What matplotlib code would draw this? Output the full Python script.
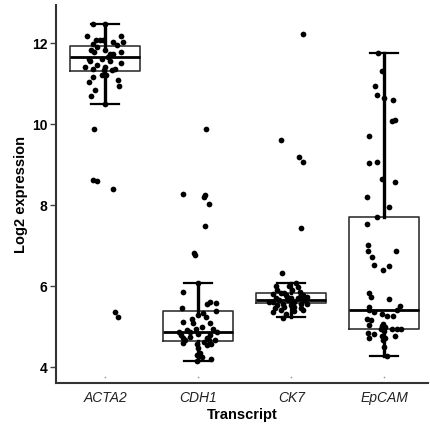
import matplotlib
matplotlib.use('Agg')
import matplotlib.pyplot as plt

plt.rcParams['font.family'] = ['Liberation Sans', 'DejaVu Sans']

# --- data ---
transcripts = ['ACTA2', 'CDH1', 'CK7', 'EpCAM']

# box statistics: lower whisker, q1, median, q3, upper whisker
whislo = [10.50, 4.15, 5.24, 4.27]
q1 = [11.32, 4.64, 5.59, 4.94]
med = [11.66, 4.87, 5.65, 5.42]
q3 = [11.94, 5.39, 5.83, 7.71]
whishi = [12.48, 6.07, 6.07, 11.77]

# jittered points: horizontal offset from the group centre and log2 value
acta2_dx = [-0.13, 0.00, -0.20, 0.17, -0.10, -0.06, -0.03, 0.19, -0.13, 0.08,
            0.13, -0.09, -0.15, -0.12, 0.00, 0.17, 0.05, 0.08, 0.03, -0.04,
            -0.18, -0.17, 0.05, 0.17, -0.09, -0.22, 0.00, 0.10, 0.07, -0.13,
            -0.02, -0.13, -0.04, 0.01, 0.14, -0.18, 0.15, -0.11, -0.15, 0.00,
            -0.12, -0.13, -0.09, 0.08, 0.10, 0.14]
acta2_y = [12.48, 12.48, 12.17, 12.17, 12.09, 12.09, 12.09, 12.03, 11.99, 12.03,
           11.95, 11.91, 11.83, 11.79, 11.83, 11.79, 11.74, 11.74, 11.66, 11.62,
           11.60, 11.55, 11.55, 11.50, 11.46, 11.41, 11.41, 11.37, 11.33, 11.37,
           11.33, 11.17, 11.21, 11.21, 11.09, 11.05, 10.94, 10.85, 10.70, 10.50,
           9.89, 8.62, 8.60, 8.40, 5.37, 5.24]

cdh1_dx = [0.08, -0.16, 0.07, 0.06, 0.11, 0.07, -0.05, -0.04, -0.16, 0.00,
           0.13, 0.09, 0.19, -0.18, 0.19, 0.05, 0.00, -0.07, -0.06, -0.16,
           0.08, 0.13, 0.04, -0.03, 0.16, -0.12, -0.09, -0.21, 0.20, 0.00,
           -0.19, -0.17, 0.13, -0.09, 0.09, 0.11, -0.14, -0.16, 0.18, 0.06,
           -0.01, 0.14, 0.09, 0.00, 0.02, -0.01, 0.04, 0.14, -0.01]
cdh1_y = [9.89, 8.27, 8.25, 8.21, 8.02, 7.49, 6.81, 6.77, 5.86, 6.08,
          5.61, 5.57, 5.59, 5.45, 5.39, 5.34, 5.28, 5.18, 5.08, 5.12,
          5.24, 5.08, 5.00, 4.95, 4.95, 4.91, 4.87, 4.87, 4.87, 4.83,
          4.79, 4.73, 4.79, 4.75, 4.71, 4.67, 4.67, 4.60, 4.67, 4.63,
          4.58, 4.58, 4.54, 4.46, 4.34, 4.30, 4.25, 4.21, 4.16]

ck7_dx = [0.12, -0.11, 0.08, 0.13, 0.10, -0.10, 0.05, -0.17, -0.02, 0.07,
          -0.15, 0.01, 0.09, -0.20, -0.11, -0.06, 0.12, 0.17, -0.17, 0.00,
          0.07, -0.13, -0.04, 0.14, 0.03, -0.20, -0.09, 0.10, 0.17, -0.15,
          -0.00, 0.03, -0.08, 0.10, -0.18, 0.12, -0.11, 0.03, -0.20, -0.06,
          -0.09, -0.08, 0.09, -0.05, -0.24]
ck7_y = [12.22, 9.62, 9.19, 9.07, 7.44, 6.33, 6.08, 6.00, 6.00, 5.97,
         5.90, 5.90, 5.86, 5.80, 5.82, 5.78, 5.78, 5.74, 5.70, 5.70,
         5.70, 5.65, 5.65, 5.65, 5.61, 5.61, 5.57, 5.57, 5.57, 5.53,
         5.53, 5.49, 5.49, 5.45, 5.45, 5.41, 5.41, 5.39, 5.37, 5.32,
         5.22, 5.84, 5.72, 5.72, 5.60]

epcam_dx = [-0.07, -0.02, -0.10, -0.08, 0.00, 0.09, 0.08, 0.12, -0.17, -0.17,
            -0.08, -0.02, 0.11, -0.19, 0.05, -0.08, -0.19, -0.18, -0.18, 0.13,
            -0.13, 0.05, -0.01, -0.11, -0.17, -0.14, 0.05, 0.17, -0.16, 0.14,
            -0.16, -0.11, -0.03, 0.03, 0.09, -0.19, -0.14, -0.01, -0.02, 0.01,
            -0.16, 0.08, 0.14, 0.18, -0.04, 0.00, -0.18, -0.11, -0.02, 0.01,
            0.11, -0.16, -0.01, 0.00, 0.03]
epcam_y = [11.77, 11.31, 10.94, 10.73, 10.65, 10.59, 10.07, 10.11, 9.71, 9.04,
           9.06, 8.64, 8.58, 8.19, 7.96, 7.71, 7.53, 7.01, 6.87, 6.86,
           6.71, 6.49, 6.40, 6.52, 5.82, 5.74, 5.67, 5.52, 5.49, 5.42,
           5.42, 5.37, 5.31, 5.26, 5.26, 5.20, 5.16, 5.06, 5.01, 4.99,
           5.03, 4.95, 4.95, 4.93, 4.93, 4.89, 4.85, 4.81, 4.77, 4.73,
           4.77, 4.71, 4.68, 4.50, 4.27]

points_dx = [acta2_dx, cdh1_dx, ck7_dx, epcam_dx]
points_y = [acta2_y, cdh1_y, ck7_y, epcam_y]

# --- figure ---
fig = plt.figure(figsize=(4.30, 4.29), dpi=100)
ax = fig.add_axes([0.130, 0.107, 0.865, 0.881])

positions = list(range(1, len(transcripts) + 1))
stats = []
for i, name in enumerate(transcripts):
    stats.append(dict(label=name, whislo=whislo[i], q1=q1[i], med=med[i],
                      q3=q3[i], whishi=whishi[i], fliers=[]))

ax.bxp(stats, positions=positions, widths=0.75, showfliers=False,
       capwidths=0.30, patch_artist=False,
       boxprops=dict(color='#333333', linewidth=1.2),
       medianprops=dict(color='black', linewidth=2.0),
       whiskerprops=dict(color='black', linewidth=2.4),
       capprops=dict(color='black', linewidth=1.6))

for i, pos in enumerate(positions):
    xs = [pos + d for d in points_dx[i]]
    ax.scatter(xs, points_y[i], s=17, color='black', linewidths=0, zorder=3)
    # faint residual marks near the bottom of each group
    ax.scatter([pos], [3.76], s=1.5, color='#999999', linewidths=0, zorder=3)

ax.set_xlim(0.468, 4.468)
ax.set_ylim(3.605, 12.94)
ax.set_yticks([4, 6, 8, 10, 12])
ax.set_xticks(positions)
ax.set_xticklabels(transcripts, fontstyle='italic', fontsize=10, color='#222222')

for lab in ax.get_yticklabels():
    lab.set_fontweight('bold')
ax.tick_params(axis='y', labelsize=10, length=4, width=1.0, color='#444444', pad=2)
ax.tick_params(axis='x', length=0, pad=6)

for side in ['top', 'right']:
    ax.spines[side].set_visible(False)
for side in ['left', 'bottom']:
    ax.spines[side].set_color('#333333')
    ax.spines[side].set_linewidth(1.5)

ax.set_xlabel('Transcript', fontsize=10.5, fontweight='bold', labelpad=2)
ax.set_ylabel('Log2 expression', fontsize=10.5, fontweight='bold', labelpad=3)

fig.savefig('out.png', dpi=100)
